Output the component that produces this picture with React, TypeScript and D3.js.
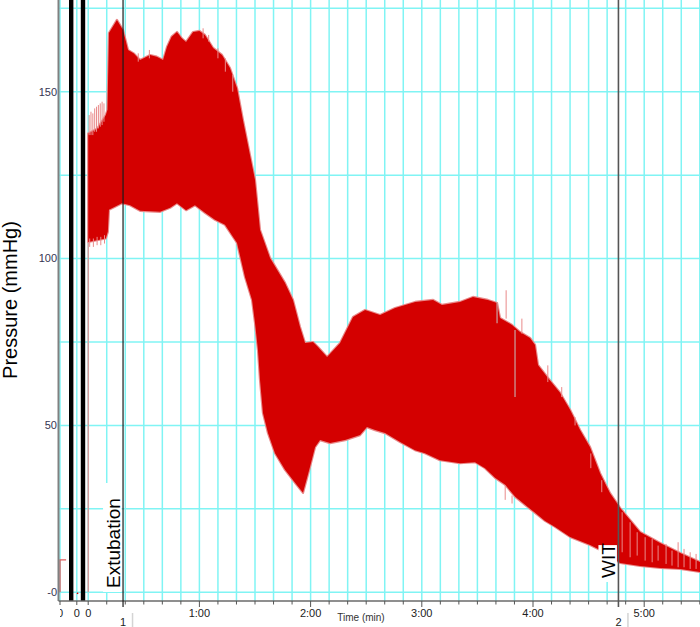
import * as d3 from "d3";

// arterial pressure trace, compressed: upper (systolic) and lower (diastolic) envelope
// time in seconds from the start of the main record, pressure in mmHg
const upperTime = [0, 5, 9.5, 10.4, 11.2, 15.5, 18.8, 21.5, 24.5, 28, 33.4, 37, 40.4, 42.5, 45, 47.9, 50.5, 52.8, 56.6, 60, 63, 67.4, 72.2, 76.5, 80.3, 83.5, 87.3, 90, 92.7, 98.1, 106.2, 110.5, 114.3, 117, 121.3, 124, 128.9, 135.9, 142.9, 149.4, 157.5, 165.6, 176.4, 186.1, 190.9, 200.6, 207.6, 215.7, 220.6, 222.2, 228.7, 233, 238.4, 241.1, 242.7, 248.1, 254.6, 260, 265.4, 270.8, 276.2, 281.6, 287, 292.4, 297.8, 308.6, 319.4, 330.1];
const upperValue = [137.5, 139, 143, 144.6, 167.6, 171.5, 168.5, 162.5, 161.5, 159.5, 161, 160.5, 159.5, 163.4, 166.5, 167.9, 166, 164.9, 167.9, 168.2, 167, 163.1, 161, 157.1, 151.1, 141.5, 131, 123.6, 108.6, 100.2, 92.7, 87.6, 79.5, 74.7, 75, 73.5, 70.5, 74.7, 82.5, 84.6, 83.1, 85.2, 87, 87.6, 86.1, 87, 88.5, 87.6, 86.7, 82.2, 80.1, 78, 76.2, 74.1, 68.1, 64.2, 59.8, 54.7, 48.6, 43.5, 35.7, 29.7, 25.3, 21.7, 18.1, 14.8, 11.8, 9.1];
const lowerTime = [0, 9.5, 10.6, 11.2, 18.2, 22.6, 28, 38.8, 44.2, 47.9, 52.8, 57.6, 63, 68.4, 73.8, 80.3, 84.6, 88.4, 90, 91.6, 92.7, 94.3, 97, 100.8, 106.2, 111.6, 115.9, 119.7, 122.4, 125.1, 130.5, 138.6, 146.7, 150.4, 154.8, 160.2, 168.3, 176.3, 181.7, 189.8, 200.6, 208.7, 214.1, 219.5, 225, 230.4, 235.7, 241.1, 246.5, 251.9, 260, 265.4, 270.8, 276.2, 281.6, 287, 297.8, 308.6, 319.4, 330.1];
const lowerValue = [105, 106, 108, 114.6, 116.6, 116, 114.3, 114, 115.2, 116.6, 114.5, 116, 113.7, 111.6, 110.1, 104.7, 94.5, 87.6, 80.7, 72.6, 63.6, 53.7, 47.7, 41.7, 36.7, 32.8, 29.8, 37.6, 43.5, 45.6, 44.7, 45.6, 47.1, 49.5, 48.6, 47.7, 45, 42.6, 41.7, 39.6, 38.7, 39, 37.2, 34.3, 32.2, 28.6, 26.2, 23.8, 21.4, 19.6, 16.6, 15.4, 14.2, 12.7, 10.6, 8.8, 7.9, 7.3, 7, 6.1];

// pale single beats sticking out of / showing through the band
const paleTime = [0.5, 1.5, 2.5, 3.5, 4.5, 5.5, 6.5, 7.5, 8.5, 0.8, 2.8, 4.8, 6.8, 8.8, 27, 33, 62, 65, 70, 74, 78, 225.5, 234, 248, 255.5, 262.7, 225, 228.7, 271.2, 277.1, 288.1, 292.4, 296.2, 300.5, 304.3, 307.5, 311.8, 315, 318.3, 321.5, 324.8, 328];
const paleLow = [137, 137, 137, 138, 138, 139, 139.5, 140, 141, 103.5, 103.5, 104, 104, 104.5, 159, 160, 166, 165, 160, 156, 150, 82, 77.5, 63, 58.5, 50, 27.7, 26.6, 37.2, 30, 12, 10.5, 11, 9.5, 9, 9.5, 8.5, 8, 7.5, 7.5, 7, 7];
const paleHigh = [143, 144, 143.5, 145, 145.5, 146, 146.5, 147, 146.5, 106, 106, 106.5, 106.5, 107, 161.5, 162.5, 169, 167, 163, 160, 155, 90.5, 82, 68, 61.5, 52.5, 32, 29, 41.6, 33.6, 24, 21, 18, 16.5, 16, 14, 14.5, 12.5, 15, 13, 12, 11.5];

// greyish gaps in the record
const gapTime = [220.6, 230.3];
const gapLow = [80.6, 58.5];
const gapHigh = [86.9, 78.6];

// short pieces of trace in the two records before the main one
const preATime = [0, 0, 3.3];
const preAValue = [0, 9.7, 9.7];
const preBTime = [0, 0.8];
const preBValue = [-0.3, -0.3];
const leadTime = [0, 0];
const leadValue = [0, 105];

// comments / events
const eventTime = [18.8, 286.1];
const eventText = ["Extubation", "WIT"];
const eventNumber = ["1", "2"];

const yTickValues = [0, 50, 100, 150];
const yTickLabels = ["-0", "50", "100", "150"];
const minuteTicks = [60, 120, 180, 240, 300];
const minuteLabels = ["1:00", "2:00", "3:00", "4:00", "5:00"];

const FONT = "'Liberation Sans', Arial, sans-serif";
const GRID = "#80f4f4";
const RED = "#d40000";
const PALE = "#e98a8a";

export default function App() {
  const width = 700;
  const height = 627;
  const axisY = 601;
  const axisX = 58.5;
  const pxPerMin = 111.2;

  const y = d3.scaleLinear([0, 150], [592.3, 91.7]);
  // three records side by side, each with its own time origin
  const blockOrigins = [60, 76.8, 88.2];
  const xs = blockOrigins.map((o) => d3.scaleLinear([0, 60], [o, o + pxPerMin]));
  const x = xs[2];
  const separators = [71.2, 83];

  const band: [number, number][] = [
    ...upperTime.map((t, i) => [x(t), y(upperValue[i])] as [number, number]),
    ...lowerTime.map((t, i) => [x(t), y(lowerValue[i])] as [number, number]).reverse(),
  ];
  const bandPath = d3.line()(band) + "Z";

  const traceLine = (sx: d3.ScaleLinear<number, number>, ts: number[], vs: number[]) =>
    d3.line<number>().x((t) => sx(t)).y((_, i) => y(vs[i]))(ts) || "";

  const gridY = d3.range(0, 176, 25);
  const gridX = d3.range(10, 340, 10).filter((t) => x(t) <= width);

  return (
    <svg
      width={width}
      height={height}
      style={{ position: "absolute", left: 0, top: 0, display: "block", background: "#fff" }}
      fontFamily={FONT}
    >
      <defs>
        <clipPath id="plotClip">
          <rect x={axisX + 1.5} y={0} width={width} height={height} />
        </clipPath>
      </defs>
      <rect width={width} height={height} fill="#fff" />

      {/* grid */}
      <g stroke={GRID} strokeWidth={1.5}>
        {gridY.map((v) => (
          <line key={"gy" + v} x1={axisX} x2={width} y1={y(v)} y2={y(v)} />
        ))}
        {gridX.map((t) => (
          <line key={"gx" + t} x1={x(t)} x2={x(t)} y1={0} y2={axisY} />
        ))}
        {xs.map((sx, i) => (
          <line key={"g0" + i} x1={sx(0)} x2={sx(0)} y1={0} y2={axisY} />
        ))}
      </g>

      {/* pressure band: pale fringe underneath, solid fill on top */}
      <path d={bandPath} fill={PALE} stroke={PALE} strokeWidth={2.2} strokeLinejoin="round" />
      <path d={bandPath} fill={RED} />
      <g stroke={PALE} strokeWidth={1}>
        {paleTime.map((t, i) => (
          <line key={"p" + i} x1={x(t)} x2={x(t)} y1={y(paleLow[i])} y2={y(paleHigh[i])} />
        ))}
      </g>
      <g stroke="#c9a3a3" strokeWidth={1.2}>
        {gapTime.map((t, i) => (
          <line key={"gp" + i} x1={x(t)} x2={x(t)} y1={y(gapLow[i])} y2={y(gapHigh[i])} />
        ))}
      </g>
      <path d={traceLine(x, leadTime, leadValue)} stroke={PALE} strokeWidth={1.2} fill="none" />
      <path d={traceLine(xs[0], preATime, preAValue)} stroke="#e25b5b" strokeWidth={1.3} fill="none" />
      <path d={traceLine(xs[1], preBTime, preBValue)} stroke={RED} strokeWidth={1.5} fill="none" />

      {/* record separators */}
      {separators.map((sx, i) => (
        <rect key={"sep" + i} x={sx - 2.2} y={0} width={4.4} height={axisY} fill="#000" />
      ))}

      {/* axes */}
      <line x1={axisX} x2={axisX} y1={0} y2={axisY} stroke="#808080" strokeWidth={2} />
      <line x1={axisX} x2={width} y1={axisY} y2={axisY} stroke="#6a6a6a" strokeWidth={1.5} />
      <g fill="#353552" fontSize={11} textAnchor="end">
        {yTickValues.map((v, i) => (
          <text key={"yl" + v} x={axisX - 1.5} y={y(v)} dy="0.35em">
            {yTickLabels[i]}
          </text>
        ))}
      </g>
      <g stroke="#555" strokeWidth={1}>
        {gridX.map((t) => (
          <line key={"tk" + t} x1={x(t)} x2={x(t)} y1={axisY} y2={axisY + (t % 60 === 0 ? 6 : 3.5)} />
        ))}
        {xs.map((sx, i) => (
          <line key={"tk0" + i} x1={sx(0)} x2={sx(0)} y1={axisY} y2={axisY + 4} />
        ))}
      </g>
      <g fill="#222" fontSize={11} textAnchor="middle" clipPath="url(#plotClip)">
        {xs.map((sx, i) => (
          <text key={"z" + i} x={sx(0)} y={617}>
            0
          </text>
        ))}
        {minuteTicks.map((t, i) => (
          <text key={"m" + t} x={x(t)} y={617}>
            {minuteLabels[i]}
          </text>
        ))}
      </g>
      <text x={361} y={621} fontSize={10} textAnchor="middle" fill="#333">
        Time (min)
      </text>

      {/* events */}
      {eventTime.map((t, i) => {
        const ex = x(t);
        const len = eventText[i].length * 10.3 + 4;
        return (
          <g key={"ev" + i}>
            <line
              x1={ex}
              x2={ex}
              y1={0}
              y2={607}
              stroke={i === 0 ? "#1a1a1a" : "#555"}
              strokeWidth={i === 0 ? 1.2 : 1.6}
            />
            <rect x={ex - 20} y={(i === 0 ? 590 : 580) - len} width={18.5} height={len + 2} fill="#fff" />
            <text
              transform={`translate(${ex - 3},${i === 0 ? 588 : 578}) rotate(-90)`}
              fontSize={19}
              fill="#000"
            >
              {eventText[i]}
            </text>
            <text x={ex} y={626} fontSize={11} textAnchor="middle" fill="#222">
              {eventNumber[i]}
            </text>
            <line x1={ex + 9.5} x2={ex + 9.5} y1={613} y2={627} stroke="#d4d4d4" strokeWidth={1.5} />
          </g>
        );
      })}

      {/* y title */}
      <text transform="translate(17,300) rotate(-90)" fontSize={20} textAnchor="middle" fill="#000">
        Pressure (mmHg)
      </text>
    </svg>
  );
}
